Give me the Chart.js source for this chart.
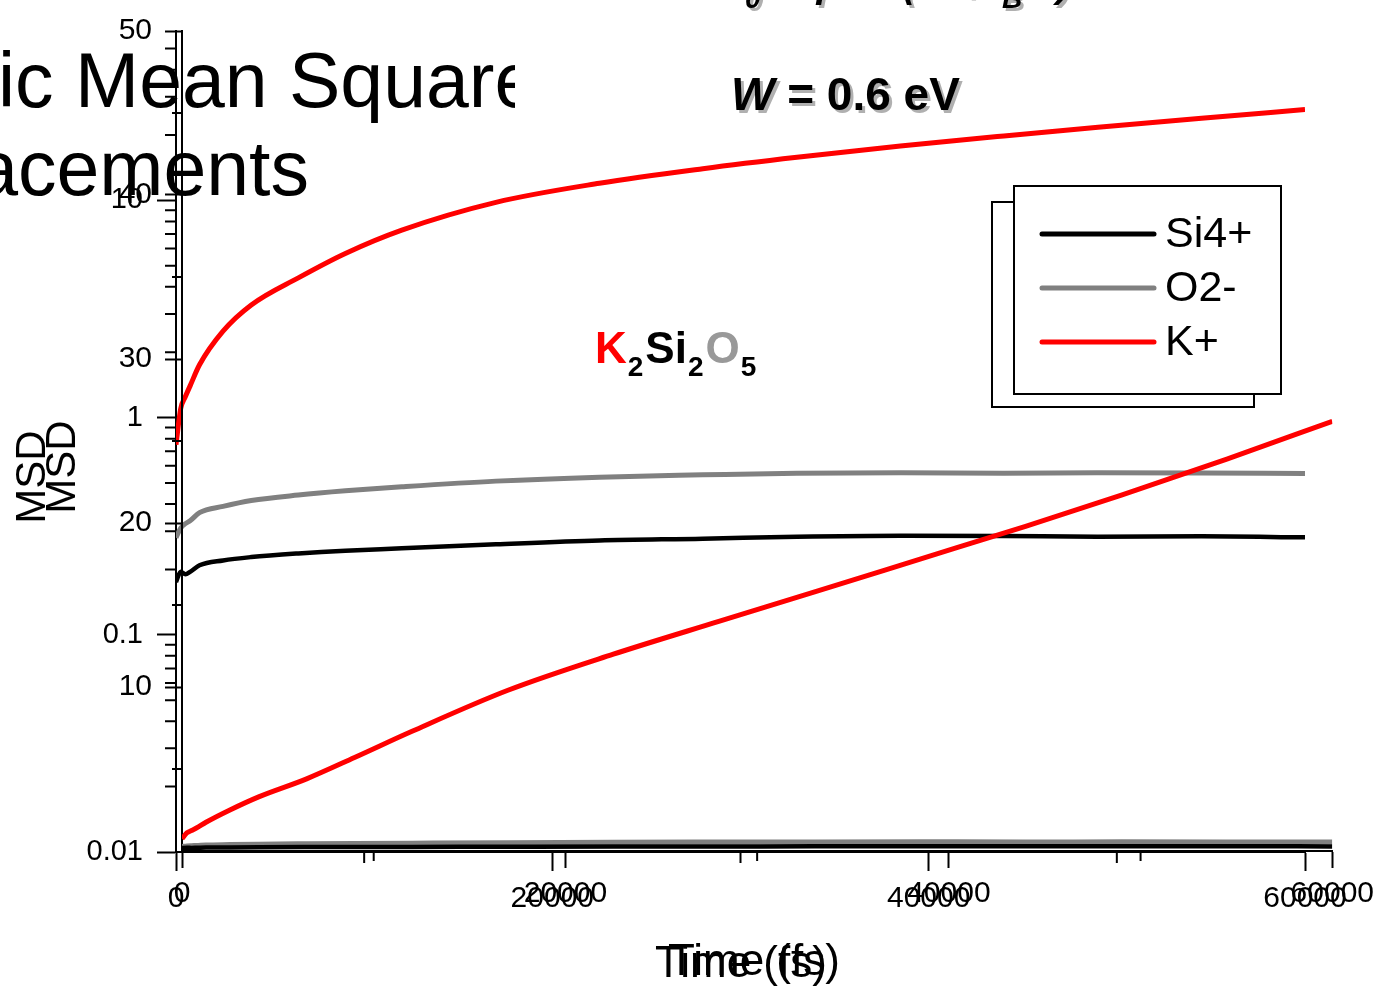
<!DOCTYPE html>
<html lang="en">
<head>
    <meta charset="UTF-8">
    <title>Atomic Mean Square Displacements</title>
    <script src="https://cdn.jsdelivr.net/npm/chart.js"></script>
    <style>
        body { margin: 0; background: #fff; }
        .layer { position: absolute; left: 0; top: 0; width: 1382px; height: 987px; }
    </style>
</head>
<body>
    <div class="layer"><canvas id="logChart"></canvas></div>
    <div class="layer"><canvas id="linChart"></canvas></div>

<script>
    // time (fs) and MSD values
    const timeFs = [0, 250, 500, 750, 1250, 2500, 4000, 6500, 9000, 12000, 17000, 22500, 28000, 33000, 38500, 44000, 49000, 54500, 60000];
    const msdSi = [0.175, 0.195, 0.19, 0.195, 0.209, 0.22, 0.228, 0.237, 0.244, 0.25, 0.261, 0.272, 0.277, 0.283, 0.286, 0.285, 0.283, 0.284, 0.281];
    const msdO = [0.28, 0.31, 0.325, 0.335, 0.365, 0.39, 0.415, 0.44, 0.46, 0.48, 0.51, 0.532, 0.545, 0.555, 0.557, 0.555, 0.557, 0.556, 0.553];
    const msdK = [0.75, 1.1, 1.25, 1.4, 1.75, 2.5, 3.3, 4.4, 5.7, 7.3, 9.8, 12.0, 14.0, 15.8, 17.8, 19.8, 21.7, 23.9, 26.2];

    const seriesNames = ["Si4+", "O2-", "K+"];
    const seriesColors = ["#000000", "#808080", "#ff0000"];

    const timeTicks = [0, 20000, 40000, 60000];
    const timeMinor = [10000, 30000, 50000];
    const logTicks = [0.01, 0.1, 1, 10];
    const logMinor = [0.02, 0.03, 0.04, 0.05, 0.06, 0.07, 0.08, 0.09,
                      0.2, 0.3, 0.4, 0.5, 0.6, 0.7, 0.8, 0.9,
                      2, 3, 4, 5, 6, 7, 8, 9, 20, 30, 40, 50];
    const linTicks = [10, 20, 30, 40, 50];
    const linMinor = [5, 15, 25, 35, 45];

    const FONT = "'Liberation Sans', Arial, sans-serif";

    const minorTicks = {
        id: "minorTicks",
        afterDraw(chart, args, opts) {
            const ctx = chart.ctx;
            const xs = chart.scales.x, ys = chart.scales.y;
            ctx.save();
            ctx.strokeStyle = "#000";
            ctx.lineWidth = 2;
            ctx.beginPath();
            opts.x.forEach(v => {
                const px = xs.getPixelForValue(v);
                ctx.moveTo(px, xs.top);
                ctx.lineTo(px, xs.top + opts.xLen);
            });
            opts.y.forEach(v => {
                const py = ys.getPixelForValue(v);
                ctx.moveTo(ys.right, py);
                ctx.lineTo(ys.right - opts.yLen, py);
            });
            ctx.stroke();
            ctx.restore();
        }
    };

    const annotations = {
        id: "annotations",
        afterDraw(chart) {
            const ctx = chart.ctx;
            ctx.save();
            ctx.fillStyle = "#000";
            ctx.textAlign = "left";
            ctx.textBaseline = "alphabetic";

            // big clipped title
            ctx.save();
            ctx.beginPath();
            ctx.rect(0, 0, 515, 987);
            ctx.clip();
            ctx.font = "77px " + FONT;
            const x0 = 75 - ctx.measureText("Atomic ").width;
            ctx.fillText("Atomic Mean Square", x0, 107);
            ctx.textAlign = "right";
            ctx.fillText("Displacements", 309, 195);
            ctx.restore();

            // formula cut off at the top, with shadow
            const drawShadowed = (text, x, y, font) => {
                ctx.font = font;
                ctx.fillStyle = "#b0b0b0";
                ctx.fillText(text, x + 3, y + 3);
                ctx.fillStyle = "#000";
                ctx.fillText(text, x, y);
            };
            const big = "italic bold 40px " + FONT;
            const sub = "italic bold 28px " + FONT;
            drawShadowed("D", 717, -3, big);
            drawShadowed("0", 745, 8, sub);
            drawShadowed("exp", 772, -3, big);
            drawShadowed("(\u2212W/k", 903, -3, "italic bold 36px " + FONT);
            drawShadowed("B", 1002, 8, sub);
            drawShadowed("T)", 1032, -3, big);

            // W = 0.6 eV
            drawShadowed("W", 731, 110, "italic bold 46px " + FONT);
            ctx.font = "italic bold 46px " + FONT;
            const wW = ctx.measureText("W").width;
            drawShadowed(" = 0.6 eV", 731 + wW, 110, "bold 46px " + FONT);

            // K2Si2O5
            const parts = [
                ["K", "#ff0000", false], ["2", "#000", true],
                ["Si", "#000", false], ["2", "#000", true],
                ["O", "#999999", false], ["5", "#000", true]
            ];
            let px = 595;
            parts.forEach(([t, c, isSub]) => {
                ctx.font = isSub ? "bold 28px " + FONT : "bold 44px " + FONT;
                ctx.fillStyle = c;
                ctx.fillText(t, px, isSub ? 376 : 363);
                px += ctx.measureText(t).width + (isSub ? 2 : 1);
            });

            // axis titles (both charts)
            ctx.fillStyle = "#000";
            ctx.font = "42px " + FONT;
            ctx.textAlign = "center";
            [[45, 477], [75, 467]].forEach(([x, y]) => {
                ctx.save();
                ctx.translate(x, y);
                ctx.rotate(-Math.PI / 2);
                ctx.fillText("MSD", 0, 0);
                ctx.restore();
            });
            ctx.font = "44px " + FONT;
            ctx.textAlign = "left";
            ctx.fillText("Time (fs)", 655, 977);
            ctx.fillText("Time (fs)", 668, 975);

            // legend with the offset shadow box
            ctx.lineWidth = 2;
            ctx.strokeStyle = "#000";
            ctx.fillStyle = "#fff";
            ctx.fillRect(992, 202, 262, 205);
            ctx.strokeRect(992, 202, 262, 205);
            ctx.fillRect(1014, 186, 267, 208);
            ctx.strokeRect(1014, 186, 267, 208);
            ctx.font = "43px " + FONT;
            ctx.textBaseline = "middle";
            chart.data.datasets.forEach((ds, i) => {
                const y = 234 + i * 54;
                ctx.strokeStyle = ds.borderColor;
                ctx.lineWidth = 5;
                ctx.lineCap = "round";
                ctx.beginPath();
                ctx.moveTo(1042, y);
                ctx.lineTo(1154, y);
                ctx.stroke();
                ctx.fillStyle = "#000";
                ctx.fillText(ds.label, 1165, y + 1);
            });
            ctx.restore();
        }
    };

    function makeDatasets() {
        const widths = [4.5, 5, 5];
        return [msdSi, msdO, msdK].map((vals, i) => ({
            label: seriesNames[i],
            data: timeFs.map((t, j) => ({ x: t, y: vals[j] })),
            borderColor: seriesColors[i],
            backgroundColor: seriesColors[i],
            borderWidth: widths[i],
            pointRadius: 0,
            cubicInterpolationMode: "monotone",
            fill: false
        }));
    }

    function axisStyle(tickLen) {
        return {
            grid: { drawOnChartArea: false, drawTicks: true, tickLength: tickLen, tickWidth: 2, tickColor: "#000" },
            border: { display: true, color: "#000", width: 2 }
        };
    }

    function createChart(canvasId, cfg) {
        return new Chart(document.getElementById(canvasId), {
            type: "line",
            data: { datasets: makeDatasets() },
            options: {
                responsive: true,
                maintainAspectRatio: false,
                animation: false,
                events: [],
                layout: { padding: cfg.padding },
                plugins: {
                    legend: { display: false },
                    tooltip: { enabled: false },
                    minorTicks: cfg.minor
                },
                scales: {
                    x: {
                        type: "linear",
                        position: "bottom",
                        min: 0,
                        max: 60000,
                        afterFit: s => { s.height = cfg.xHeight; },
                        afterBuildTicks: a => { a.ticks = timeTicks.map(v => ({ value: v })); },
                        ticks: {
                            color: "#000",
                            font: { family: FONT, size: 30 },
                            padding: cfg.xPad,
                            maxRotation: 0,
                            autoSkip: false,
                            callback: v => String(v)
                        },
                        ...axisStyle(cfg.xTick)
                    },
                    y: {
                        type: cfg.yType,
                        position: "left",
                        min: cfg.yMin,
                        max: cfg.yMax,
                        afterFit: s => { s.width = cfg.yWidth; },
                        afterBuildTicks: a => { a.ticks = cfg.yTicks.map(v => ({ value: v })); },
                        ticks: {
                            color: "#000",
                            font: { family: FONT, size: cfg.yFont },
                            padding: cfg.yPad,
                            autoSkip: false,
                            callback: v => String(v)
                        },
                        ...axisStyle(cfg.yTick)
                    }
                }
            },
            plugins: cfg.plugins
        });
    }

    createChart("logChart", {
        padding: { left: 0, top: 22, right: 77, bottom: 0 },
        xHeight: 135, xPad: 10, xTick: 19,
        yType: "logarithmic", yMin: 0.01, yMax: 60,
        yWidth: 176, yTicks: logTicks, yFont: 29, yPad: 14, yTick: 19,
        minor: { x: timeMinor, y: logMinor, xLen: 11, yLen: 11 },
        plugins: [minorTicks]
    });

    createChart("linChart", {
        padding: { left: 0, top: 22, right: 49, bottom: 0 },
        xHeight: 136, xPad: 8, xTick: 17,
        yType: "linear", yMin: 0, yMax: 50,
        yWidth: 182, yTicks: linTicks, yFont: 30, yPad: 13, yTick: 17,
        minor: { x: timeMinor, y: linMinor, xLen: 10, yLen: 10 },
        plugins: [minorTicks, annotations]
    });
</script>
</body>
</html>
